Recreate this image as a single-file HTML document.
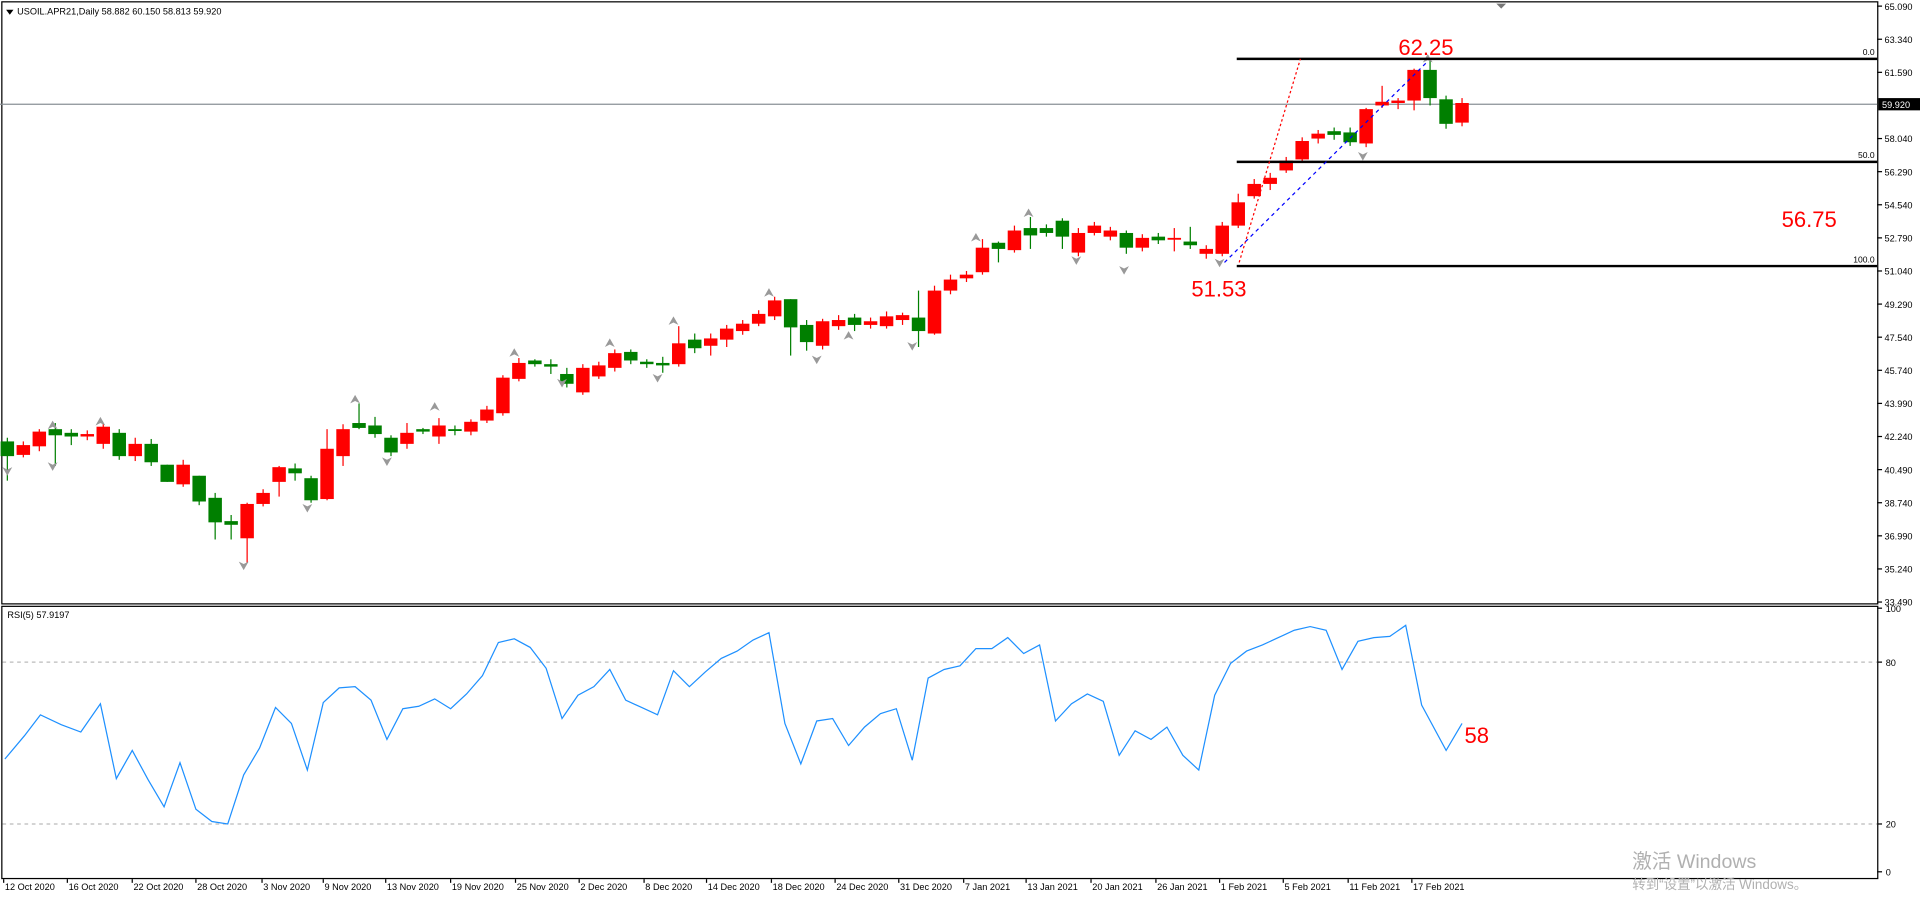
<!DOCTYPE html>
<html><head><meta charset="utf-8"><style>
html,body{margin:0;padding:0;background:#fff;overflow:hidden}
svg{display:block}
text{font-family:"Liberation Sans","Noto Sans CJK SC",sans-serif}
</style></head><body>
<svg id="s" width="1920" height="900" viewBox="0 0 1568 734" preserveAspectRatio="none" xmlns="http://www.w3.org/2000/svg">
<rect x="0" y="0" width="1568" height="734" fill="#fff"/>
<g id="c"></g>
</svg>
<script>
const NS="http://www.w3.org/2000/svg";const g=document.getElementById('c');
function el(t,a,txt){const e=document.createElementNS(NS,t);for(const k in a)e.setAttribute(k,a[k]);if(txt!==undefined)e.textContent=txt;g.appendChild(e);return e;}
// frames
el('rect',{x:1.5,y:1.5,width:1532,height:491,fill:'none',stroke:'#000','stroke-width':1});
el('rect',{x:1.5,y:494.5,width:1532,height:222,fill:'none',stroke:'#000','stroke-width':1});
// price axis
const py=p=>5+(65.09-p)*15.43;
const labs=["65.090","63.340","61.590","58.040","56.290","54.540","52.790","51.040","49.290","47.540","45.740","43.990","42.240","40.490","38.740","36.990","35.240","33.490"];
labs.forEach((l,i)=>{const y=5+i*27+(i>=3?27:0)-(i>=3?0:0);});
const ys=[5,32,59,113,140,167,194,221,248,275,302,329,356,383,410,437,464,491];
labs.forEach((l,i)=>{el('line',{x1:1533,x2:1537,y1:ys[i],y2:ys[i],stroke:'#000'});el('text',{x:1539,y:ys[i]+3,'font-size':7.5,fill:'#000'},l);});
el('line',{x1:0,x2:1533,y1:85,y2:85,stroke:'#8a9096','stroke-width':1});
el('rect',{x:1534,y:80,width:34,height:10,fill:'#000'});
el('text',{x:1537,y:88,'font-size':7.5,fill:'#fff'},'59.920');
// RSI axis
[[100,496],[80,540],[20,672],[0,711]].forEach(([v,y])=>{el('line',{x1:1533,x2:1537,y1:y,y2:y,stroke:'#000'});el('text',{x:1540,y:y+3,'font-size':7.5,fill:'#000'},String(v));});
el('line',{x1:2,x2:1533,y1:540,y2:540,stroke:'#bbb','stroke-dasharray':'3,3'});
el('line',{x1:2,x2:1533,y1:672,y2:672,stroke:'#bbb','stroke-dasharray':'3,3'});
// header
el('path',{d:'M5,8 L11,8 L8,12 Z',fill:'#000'});
el('text',{x:14,y:12,'font-size':7.5,fill:'#000'},'USOIL.APR21,Daily  58.882 60.150 58.813 59.920');
el('text',{x:6,y:504,'font-size':7.5,fill:'#000'},'RSI(5) 57.9197');
el('path',{d:'M1222,3 L1230,3 L1226,7 Z',fill:'#777'});
// candles [top,bottom,hi,lo,color] color r/g
const C=[
[360,372,357,392,'g'],[363,371,360,373,'r'],[352,364,350,368,'r'],[350,355,345,380,'g'],[353,356,350,363,'g'],[354,356,351,359,'r'],[348,362,345,366,'r'],[353,372,350,375,'g'],[362,372,357,376,'r'],[362,377,358,380,'g'],
[379,393,379,393,'g'],[379,395,375,397,'r'],[388,409,388,412,'g'],[406,426,402,440,'g'],[425,428,420,440,'g'],[411,439,410,459,'r'],[402,411,399,413,'r'],[381,393,380,405,'r'],[382,386,378,392,'g'],[390,408,388,410,'g'],
[366,407,350,408,'r'],[350,372,346,380,'r'],[345,349,329,350,'g'],[347,354,340,357,'g'],[357,369,355,372,'g'],[353,362,345,366,'r'],[350,352,349,354,'g'],[347,356,341,362,'r'],[350,351,347,355,'g'],[344,352,342,355,'r'],
[334,343,331,345,'r'],[308,337,306,339,'r'],[296,309,292,311,'r'],[294,297,293,299,'g'],[297,299,293,305,'g'],[305,313,300,316,'g'],[300,320,297,322,'r'],[298,307,295,309,'r'],[288,300,285,303,'r'],[287,294,285,297,'g'],
[295,297,293,300,'g'],[296,298,291,304,'g'],[280,297,266,299,'r'],[277,284,272,288,'g'],[276,282,272,290,'r'],[268,277,265,283,'r'],[264,270,261,273,'r'],[256,264,253,266,'r'],[245,258,242,261,'r'],[244,267,244,290,'g'],
[265,279,261,286,'g'],[262,282,260,285,'r'],[261,266,257,269,'r'],[259,265,256,270,'g'],[262,265,259,268,'r'],[258,266,254,268,'r'],[257,261,255,265,'r'],[259,270,237,283,'g'],[237,272,233,273,'r'],[228,237,224,240,'r'],
[224,227,221,230,'r'],[202,222,195,224,'r'],[198,203,197,214,'g'],[188,204,184,206,'r'],[186,192,177,203,'g'],[186,190,183,193,'g'],[180,193,178,203,'g'],[190,206,186,209,'r'],[184,190,181,192,'r'],[188,193,185,196,'r'],
[190,202,188,207,'g'],[194,202,191,205,'r'],[193,196,190,199,'g'],[194,195,186,205,'r'],[197,200,185,203,'g'],[203,207,200,211,'r'],[184,207,181,209,'r'],[165,184,158,186,'r'],[150,160,146,162,'r'],[145,150,141,155,'r'],
[131,139,128,141,'r'],[115,130,112,132,'r'],[109,113,106,117,'r'],[107,110,104,114,'g'],[108,116,104,119,'g'],[89,117,88,120,'r'],[83,86,70,88,'r'],[82,84,80,89,'r'],[57,82,56,90,'r'],[57,80,49,86,'g'],
[81,101,78,105,'g'],[84,100,80,103,'r']];
const N=C.length,x0=6,dx=(1194-x0)/(N-1);
C.forEach((c,i)=>{const x=x0+i*dx,col=c[4]=='r'?'#ff0000':'#007f00';
el('line',{x1:x,x2:x,y1:c[2],y2:c[3],stroke:col,'stroke-width':1});
el('rect',{x:x-5.5,y:c[0],width:11,height:Math.max(1.5,c[1]-c[0]),fill:col});});
// fractal arrows
const up=[[43,343],[82,340],[290,322],[355,328],[420,284],[498,276],[550,258],[628,235],[693,270],[797,190],[840,170],[1166,44]];
const dn=[[6,388],[43,384],[199,465],[251,418],[316,380],[459,316],[537,312],[667,297],[745,286],[879,216],[918,224],[996,218],[1113,131]];
up.forEach(([x,y])=>el('path',{d:`M${x-4},${y+7} L${x},${y} L${x+4},${y+7} L${x},${y+5} Z`,fill:'#999'}));
dn.forEach(([x,y])=>el('path',{d:`M${x-4},${y-7} L${x},${y} L${x+4},${y-7} L${x},${y-5} Z`,fill:'#999'}));
// fib
[[48,'0.0'],[132,'50.0'],[217,'100.0']].forEach(([y,t])=>{el('line',{x1:1010,x2:1533,y1:y,y2:y,stroke:'#000','stroke-width':2});el('text',{x:1531,y:y-3,'font-size':7,fill:'#000','text-anchor':'end'},t);});
el('line',{x1:1012,y1:214,x2:1062,y2:48,stroke:'#ff0000','stroke-dasharray':'2,2'});
el('line',{x1:1000,y1:214,x2:1166,y2:50,stroke:'#0000ff','stroke-dasharray':'3,3'});
el('text',{x:1142,y:45,'font-size':18,fill:'#ff0000'},'62.25');
el('text',{x:1455,y:185,'font-size':18,fill:'#ff0000'},'56.75');
el('text',{x:973,y:242,'font-size':18,fill:'#ff0000'},'51.53');
el('text',{x:1196,y:606,'font-size':18,fill:'#ff0000'},'58');
// RSI
const R=[[4,619],[20,600],[33,583],[50,591],[66,597],[82,574],[95,635],[108,612],[121,636],[134,658],[147,622],[160,660],[173,670],[186,672],[199,632],[212,610],[225,577],[238,590],[251,628],[264,573],[277,561],[290,560],[303,571],[316,603],[329,578],[342,576],[355,570],[368,578],[381,566],[394,551],[407,524],[420,521],[433,528],[446,545],[459,586],[472,567],[485,560],[498,546],[511,571],[524,577],[537,583],[550,547],[563,560],[576,548],[589,537],[602,531],[615,522],[628,516],[641,590],[654,623],[667,588],[680,586],[693,608],[706,593],[719,582],[732,578],[745,620],[758,553],[771,546],[784,543],[797,529],[810,529],[823,520],[836,533],[849,526],[862,588],[875,574],[888,566],[901,572],[914,616],[927,596],[940,603],[953,593],[966,616],[979,628],[992,567],[1005,541],[1018,531],[1031,526],[1044,520],[1057,514],[1070,511],[1083,514],[1096,546],[1109,523],[1122,520],[1135,519],[1148,510],[1161,575],[1181,612],[1194,590]];
el('polyline',{points:R.map(p=>p.join(',')).join(' '),fill:'none',stroke:'#1e90ff','stroke-width':1});
// dates
const D=[[3,'12 Oct 2020'],[55,'16 Oct 2020'],[108,'22 Oct 2020'],[160,'28 Oct 2020'],[214,'3 Nov 2020'],[264,'9 Nov 2020'],[315,'13 Nov 2020'],[368,'19 Nov 2020'],[421,'25 Nov 2020'],[473,'2 Dec 2020'],[526,'8 Dec 2020'],[577,'14 Dec 2020'],[630,'18 Dec 2020'],[682,'24 Dec 2020'],[734,'31 Dec 2020'],[787,'7 Jan 2021'],[838,'13 Jan 2021'],[891,'20 Jan 2021'],[944,'26 Jan 2021'],[996,'1 Feb 2021'],[1048,'5 Feb 2021'],[1101,'11 Feb 2021'],[1153,'17 Feb 2021']];
D.forEach(([x,t])=>{el('line',{x1:x,x2:x,y1:717,y2:720,stroke:'#000'});el('text',{x:x+1,y:726,'font-size':7.5,fill:'#000'},t);});
el('text',{x:1333,y:708,'font-size':16,fill:'#b0b0b0'},'激活 Windows');
el('text',{x:1333,y:725,'font-size':11,fill:'#b0b0b0'},'转到“设置”以激活 Windows。');
</script>
</body></html>
